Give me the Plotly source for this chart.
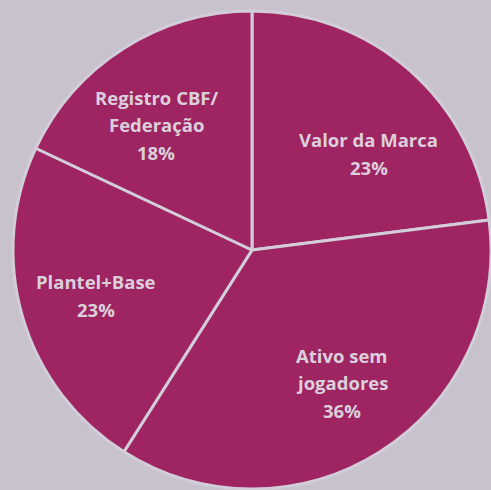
import math
import plotly.graph_objects as go

labels = ["Valor da Marca", "Ativo sem jogadores", "Plantel+Base", "Registro CBF/ Federação"]
values = [23, 36, 23, 18]
label_lines = [["Valor da Marca"], ["Ativo sem", "jogadores"], ["Plantel+Base"], ["Registro CBF/", "Federação"]]

W, H = 491, 490
dom_x = [13 / W, 1.0]
dom_y = [1 / H, 479 / H]

fig = go.Figure(go.Pie(
    labels=labels,
    values=values,
    sort=False,
    direction="clockwise",
    rotation=0,
    textinfo="none",
    hoverinfo="label+percent",
    marker=dict(colors=["#9E2561"] * 4, line=dict(color="#D2CDD8", width=3)),
    domain=dict(x=dom_x, y=dom_y),
    showlegend=False,
))

# label positions derived from slice mid-angles
total = sum(values)
cx = (dom_x[0] + dom_x[1]) / 2
cy = (dom_y[0] + dom_y[1]) / 2
r = min((dom_x[1] - dom_x[0]) * W, (dom_y[1] - dom_y[0]) * H) / 2
frac = [0.635, 0.672, 0.68, 0.66]
ang_adj = [9, -1.7, 0, -5]
line_h = 27.5
cum = 0
for i, v in enumerate(values):
    mid = (cum + v / 2) / total * 360 + ang_adj[i]
    cum += v
    th = math.radians(mid)
    dx = frac[i] * r * math.sin(th)
    dy = frac[i] * r * math.cos(th)
    x = cx + dx / W
    y = cy + dy / H
    lines = label_lines[i] + [f"{round(v / total * 100)}%"]
    n = len(lines)
    for j, t in enumerate(lines):
        shift = ((n - 1) / 2 - j) * line_h
        fig.add_annotation(
            x=x, y=y, xref="paper", yref="paper", text=t, showarrow=False,
            yshift=shift, xanchor="center", yanchor="middle",
            font=dict(family="Open Sans", size=18.5, color="#DCCFDC", weight="bold"),
        )

fig.update_layout(
    width=W, height=H,
    margin=dict(l=0, r=0, t=0, b=0),
    paper_bgcolor="#C7C2CD",
    plot_bgcolor="#C7C2CD",
)

fig.write_html(
    "out.html",
    config={"displayModeBar": False},
    post_script="document.body.style.margin='0';document.body.style.overflow='hidden';"
                "document.documentElement.style.background='#C7C2CD';",
)
